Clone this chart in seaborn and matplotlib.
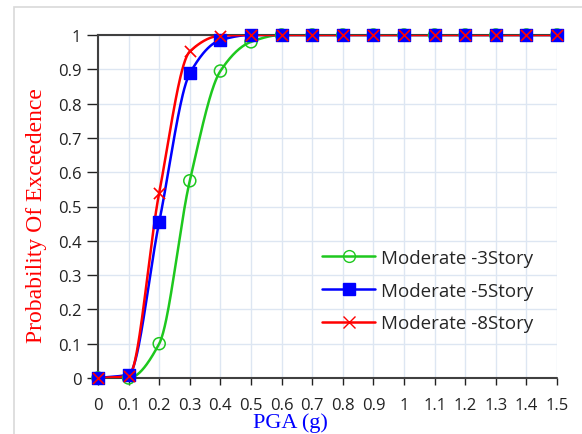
import numpy as np
import pandas as pd
import seaborn as sns
import matplotlib
matplotlib.use("Agg")
import matplotlib.pyplot as plt
from matplotlib.patches import Rectangle
from matplotlib.lines import Line2D

pga = [0.0, 0.1, 0.2, 0.3, 0.4, 0.5, 0.6, 0.7, 0.8, 0.9, 1.0, 1.1, 1.2, 1.3, 1.4, 1.5]
story3 = [0.0, 0.0, 0.10, 0.575, 0.895, 0.98, 1.0, 1.0, 1.0, 1.0, 1.0, 1.0, 1.0, 1.0, 1.0, 1.0]
story5 = [0.0, 0.01, 0.455, 0.888, 0.985, 1.0, 1.0, 1.0, 1.0, 1.0, 1.0, 1.0, 1.0, 1.0, 1.0, 1.0]
story8 = [0.0, 0.005, 0.54, 0.952, 0.998, 1.0, 1.0, 1.0, 1.0, 1.0, 1.0, 1.0, 1.0, 1.0, 1.0, 1.0]
series_names = ["Moderate -3Story", "Moderate -5Story", "Moderate -8Story"]
xticks = [0, 0.1, 0.2, 0.3, 0.4, 0.5, 0.6, 0.7, 0.8, 0.9, 1, 1.1, 1.2, 1.3, 1.4, 1.5]
xtick_labels = ["0", "0.1", "0.2", "0.3", "0.4", "0.5", "0.6", "0.7", "0.8", "0.9", "1",
                "1.1", "1.2", "1.3", "1.4", "1.5"]
yticks = [0, 0.1, 0.2, 0.3, 0.4, 0.5, 0.6, 0.7, 0.8, 0.9, 1]
ytick_labels = ["0", "0.1", "0.2", "0.3", "0.4", "0.5", "0.6", "0.7", "0.8", "0.9", "1"]

colors = ["#1ec81e", "#0000ff", "#ff0000"]
markers = ["o", "s", "x"]


def smooth(x, y, n=40):
    """Monotone cubic Hermite curve through the points (smoothed line, no overshoot)."""
    x = np.asarray(x, float)
    y = np.asarray(y, float)
    h = np.diff(x)
    d = np.diff(y) / h
    m = np.zeros_like(y)
    m[0], m[-1] = d[0], d[-1]
    for k in range(1, len(x) - 1):
        if d[k - 1] * d[k] <= 0:
            m[k] = 0.0
        else:
            w1 = 2 * h[k] + h[k - 1]
            w2 = h[k] + 2 * h[k - 1]
            m[k] = (w1 + w2) / (w1 / d[k - 1] + w2 / d[k])
    xs, ys = [], []
    t = np.linspace(0, 1, n)
    for k in range(len(x) - 1):
        h00 = 2 * t ** 3 - 3 * t ** 2 + 1
        h10 = t ** 3 - 2 * t ** 2 + t
        h01 = -2 * t ** 3 + 3 * t ** 2
        h11 = t ** 3 - t ** 2
        xs.append(x[k] + t * h[k])
        ys.append(h00 * y[k] + h10 * h[k] * m[k] + h01 * y[k + 1] + h11 * h[k] * m[k + 1])
    return np.concatenate(xs), np.concatenate(ys)


sns.set_theme(style="white")
plt.rcParams["font.family"] = ["Open Sans", "DejaVu Sans"]

W, H = 582, 435
fig = plt.figure(figsize=(W / 100, H / 100), dpi=100)
ax = fig.add_axes([98 / W, 1 - 379 / H, (557 - 98) / W, (379 - 36) / H])

# chart border
fig.patches.append(Rectangle((13.5 / W, -0.01), 1.0, 1 - 7.5 / H + 0.01,
                             transform=fig.transFigure, fill=False,
                             edgecolor="#d9d9d9", linewidth=1.2))

frames = []
for name, vals in zip(series_names, [story3, story5, story8]):
    frames.append(pd.DataFrame({"PGA": pga, "P": vals, "series": name}))
df = pd.concat(frames, ignore_index=True)

for name, col in zip(series_names, colors):
    sub = df[df["series"] == name]
    sx, sy = smooth(sub["PGA"].values, sub["P"].values)
    sns.lineplot(x=sx, y=sy, color=col, lw=1.8, ax=ax, sort=False, zorder=3)

for name, col, mk in zip(series_names, colors, markers):
    sub = df[df["series"] == name]
    if mk == "o":
        ax.scatter(sub["PGA"], sub["P"], s=75, marker="o", facecolors="none",
                   edgecolors=col, linewidths=1.1, zorder=4, clip_on=False)
    elif mk == "s":
        ax.scatter(sub["PGA"], sub["P"], s=70, marker="s", color=col, zorder=4, clip_on=False)
    else:
        ax.scatter(sub["PGA"], sub["P"], s=65, marker="x", color=col, linewidths=1.2,
                   zorder=5, clip_on=False)

ax.set_xlim(0, 1.5)
ax.set_ylim(0, 1)
ax.set_xticks(xticks)
ax.set_xticklabels(xtick_labels)
ax.set_yticks(yticks)
ax.set_yticklabels(ytick_labels)
ax.grid(True, color="#dde6f2", linewidth=1.0)
ax.set_axisbelow(True)
ax.tick_params(axis="both", labelsize=12, colors="#222222", direction="out",
               bottom=True, left=True, width=1)
ax.tick_params(axis="x", length=5, pad=9)
ax.tick_params(axis="y", length=8, pad=4)
for s in ["top", "left"]:
    ax.spines[s].set_color("#404040")
    ax.spines[s].set_linewidth(1.5)
ax.spines["bottom"].set_visible(False)
ax.spines["right"].set_visible(False)
ax.axhline(0, color="#404040", lw=1.5, zorder=2, clip_on=False)

fig.text(290 / W, 1 - 423 / H, "PGA (g)", color="#0000ff", fontsize=16,
         family="Liberation Serif", ha="center", va="center")
fig.text(37 / W, 1 - 216 / H, "Probability Of Exceedence", color="#ff0000", fontsize=17,
         family="Liberation Serif", ha="center", va="center", rotation=90)

handles = [
    Line2D([], [], color=colors[0], lw=1.8, marker="o", markerfacecolor="none", markersize=8.5),
    Line2D([], [], color=colors[1], lw=1.8, marker="s", markersize=8),
    Line2D([], [], color=colors[2], lw=1.8, marker="x", markersize=8),
]
fs = 13.5
ax.legend(handles, series_names, loc="upper left",
          bbox_to_anchor=(322 / W, 1 - 250 / H), bbox_transform=fig.transFigure,
          frameon=False, fontsize=fs, handlelength=2.85, labelspacing=0.78,
          handletextpad=0.3, borderpad=0, borderaxespad=0)

fig.savefig("out.png", dpi=100)
